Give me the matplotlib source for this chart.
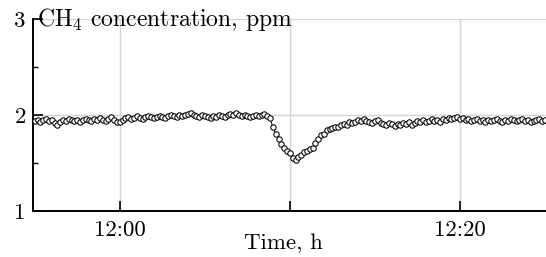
import matplotlib
matplotlib.use("Agg")
import matplotlib.pyplot as plt
import numpy as np

# CH4 concentration, ppm, sampled every 10 s starting 5 min before 12:00
conc = [
    # 11:55 - 12:00
    1.94, 1.95, 1.93, 1.95, 1.96, 1.94, 1.95, 1.92, 1.90, 1.93,
    1.95, 1.94, 1.96, 1.95, 1.94, 1.95, 1.93, 1.95, 1.96, 1.95,
    1.94, 1.96, 1.95, 1.97, 1.95, 1.94, 1.96, 1.98, 1.95, 1.93,
    # 12:00 - 12:05
    1.93, 1.95, 1.97, 1.98, 1.96, 1.97, 1.99, 1.97, 1.96, 1.98,
    1.99, 1.98, 1.97, 1.98, 1.99, 1.98, 1.97, 1.99, 2.00, 1.99,
    1.98, 2.00, 1.99, 2.00, 2.01, 2.02, 2.00, 1.99, 1.98, 2.00,
    # 12:05 - 12:08:40
    1.99, 1.98, 1.97, 1.99, 1.98, 2.00, 1.99, 1.98, 2.00, 2.01,
    2.00, 2.02, 2.00, 1.99, 2.00, 1.99, 1.98, 1.99, 2.00, 1.99,
    2.00, 2.01, 1.99,
    # dip
    1.97, 1.87, 1.80, 1.75, 1.70, 1.66, 1.63, 1.60, 1.55, 1.53,
    1.56, 1.58, 1.61, 1.62, 1.65, 1.66, 1.71, 1.75, 1.79, 1.80,
    1.84, 1.85, 1.86, 1.88, 1.87, 1.90, 1.91, 1.90, 1.93, 1.92,
    # recovery and plateau
    1.93, 1.95, 1.94, 1.96, 1.94, 1.93, 1.92, 1.94, 1.95,
    1.92, 1.91, 1.90, 1.92, 1.91, 1.89, 1.91, 1.90, 1.92, 1.91, 1.93, 1.90,
    1.92, 1.94, 1.93, 1.95, 1.93, 1.94, 1.96, 1.94, 1.95, 1.93,
    1.96, 1.95, 1.97, 1.96, 1.97,
    1.98, 1.96, 1.97, 1.95, 1.96, 1.94, 1.95, 1.96, 1.94, 1.95,
    1.93, 1.95, 1.94, 1.95, 1.96, 1.94, 1.93, 1.95, 1.94, 1.96,
    1.95, 1.94, 1.95, 1.96, 1.94, 1.95, 1.93, 1.94, 1.95, 1.96,
    1.94, 1.95,
]
t_start = -5.0        # minutes relative to 12:00
dt = 10.0 / 60.0      # sampling interval, minutes

xticks = [0, 10, 20]
xticklabels = ["12:00", "", "12:20"]
yticks = [1, 2, 3]

plt.rcParams['font.family'] = ['cmr10', 'DejaVu Serif']
plt.rcParams['mathtext.fontset'] = 'cm'
plt.rcParams['axes.formatter.use_mathtext'] = True

t = t_start + dt * np.arange(len(conc))

fig = plt.figure(figsize=(5.46, 2.57), dpi=100)
ax = fig.add_axes([0.060, 0.179, 0.94, 0.747])

ax.plot(t, conc, color="black", lw=0.7, marker="o", ms=3.9,
        mfc="white", mec="black", mew=0.75, zorder=3)

ax.set_xlim(-5.12, 25.06)
ax.set_ylim(1, 3)
ax.set_xticks(xticks)
ax.set_xticklabels(xticklabels)
ax.set_yticks(yticks)
ax.set_yticks([1.5, 2.5], minor=True)
ax.set_yticklabels([str(v) for v in yticks])

ax.grid(True, which="major", color="#d4d4d4", lw=1.0, zorder=0)
for s in ["top", "right"]:
    ax.spines[s].set_visible(False)
for s in ["left", "bottom"]:
    ax.spines[s].set_linewidth(1.4)

ax.tick_params(axis="both", which="major", direction="in", length=7,
               width=1.2, labelsize=16.5, pad=5)
ax.tick_params(axis="y", which="minor", direction="in", length=3.5, width=1.0)
ax.tick_params(axis="x", pad=7)

ax.set_xlabel("Time, h", fontsize=16.5)
ax.xaxis.set_label_coords(0.488, -0.115)
ax.text(-4.85, 3.0, "CH$_4$ concentration, ppm", fontsize=17,
        ha="left", va="center", zorder=4)

fig.savefig("out.png", dpi=100)
